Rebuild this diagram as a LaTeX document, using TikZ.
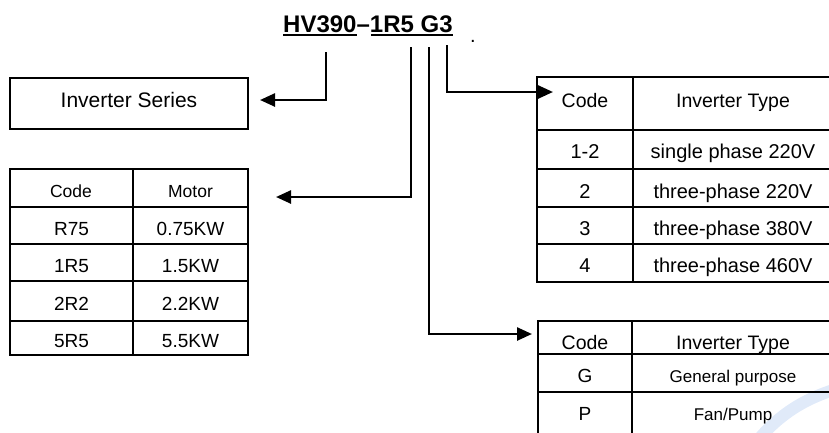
\documentclass[tikz,border=0pt]{standalone}
\usepackage{fontspec}
\setmainfont{Liberation Sans}
\usepackage{tikz}
\usetikzlibrary{arrows.meta}
\definecolor{markblue}{RGB}{224,234,249}

\begin{document}
\begin{tikzpicture}[x=1pt, y=-1pt, >={Triangle[length=15pt, width=13pt]},
  conn/.style={line width=2.5pt, ->},
  grid/.style={line width=1.5pt},
  txt/.style={anchor=base, inner sep=0pt, font=\fontsize{19}{22}\selectfont},
  big/.style={txt, font=\fontsize{20}{24}\selectfont},
  small/.style={txt, font=\fontsize{17}{20}\selectfont}]
  \useasboundingbox (0,0) rectangle (829,432);
  \clip (0,0) rectangle (829,432);

  % faint mark at the corner
  \draw[markblue, line width=12pt] (758,440) .. controls (780,414) and (805,398) .. (840,388);

  % model code
  \node[anchor=base west, inner sep=0pt, font=\fontsize{24}{28}\selectfont\bfseries] (model) at (283,32) {HV390–1R5 G3};
  \draw[line width=2pt] (283,35) -- (357,35);
  \draw[line width=2pt] (371,35) -- (453,35);
  \node[txt, font=\fontsize{20}{22}\selectfont] (dot) at (473,42) {.};

  % series box
  \draw[grid] (10,78) rectangle (248,129);
  \node[big, font=\fontsize{21}{24}\selectfont] (series) at (129,107) {Inverter Series};

  % motor table
  \draw[grid] (10,169) rectangle (248,355);
  \draw[grid] (133,169) -- (133,355);
  \draw[grid] (10,207) -- (248,207) (10,244) -- (248,244) (10,281) -- (248,281) (10,321) -- (248,321);
  \node[small, font=\fontsize{17.5}{20}\selectfont] (mcode) at (71,197) {Code};
  \node[small, font=\fontsize{17.5}{20}\selectfont] (mmotor) at (190.5,197) {Motor};
  \node[txt] (m1a) at (71.5,235) {R75};
  \node[txt] (m1b) at (190.5,235) {0.75KW};
  \node[txt] (m2a) at (71.5,272) {1R5};
  \node[txt] (m2b) at (190.5,272) {1.5KW};
  \node[txt] (m3a) at (71.5,310) {2R2};
  \node[txt] (m3b) at (190.5,310) {2.2KW};
  \node[txt] (m4a) at (71.5,347) {5R5};
  \node[txt] (m4b) at (190.5,347) {5.5KW};

  % voltage table
  \draw[grid] (837,77) -- (537,77) -- (537,282) -- (837,282);
  \draw[grid] (633,77) -- (633,282);
  \draw[grid] (537,130) -- (837,130) (537,169) -- (837,169) (537,207) -- (837,207) (537,244) -- (837,244);
  \node[txt, font=\fontsize{19.5}{22}\selectfont] (vcode) at (585,107) {Code};
  \node[txt, font=\fontsize{19.5}{22}\selectfont] (vtype) at (733,107) {Inverter Type};
  \node[big] (v1a) at (585,158) {1-2};
  \node[big] (v1b) at (733,158) {single phase 220V};
  \node[big] (v2a) at (585,198) {2};
  \node[big] (v2b) at (733,198) {three-phase 220V};
  \node[big] (v3a) at (585,235) {3};
  \node[big] (v3b) at (733,235) {three-phase 380V};
  \node[big] (v4a) at (585,272) {4};
  \node[big] (v4b) at (733,272) {three-phase 460V};

  % use table
  \draw[grid] (837,321) -- (538,321) -- (538,440);
  \draw[grid] (632,321) -- (632,440);
  \draw[grid] (538,354) -- (837,354) (538,392) -- (837,392);
  \node[txt, font=\fontsize{19.5}{22}\selectfont] (ucode) at (585,349) {Code};
  \node[txt, font=\fontsize{19.5}{22}\selectfont] (utype) at (733,349) {Inverter Type};
  \node[txt] (u1a) at (585,382) {G};
  \node[small] (u1b) at (733,382) {General purpose};
  \node[txt] (u2a) at (585,420) {P};
  \node[small] (u2b) at (733,420) {Fan/Pump};

  % connectors
  \coordinate (s1) at (326,52);
  \coordinate (s2) at (411,47);
  \coordinate (s3) at (429,47);
  \coordinate (s4) at (447,45);
  \coordinate (e1) at (260,100);
  \coordinate (e2) at (276,197);
  \coordinate (e3) at (532,334);
  \coordinate (e4) at (553,92);
  \draw[conn] (s1) |- (e1);
  \draw[conn] (s2) |- (e2);
  \draw[conn] (s3) |- (e3);
  \draw[conn] (s4) |- (e4);
\end{tikzpicture}
\end{document}
